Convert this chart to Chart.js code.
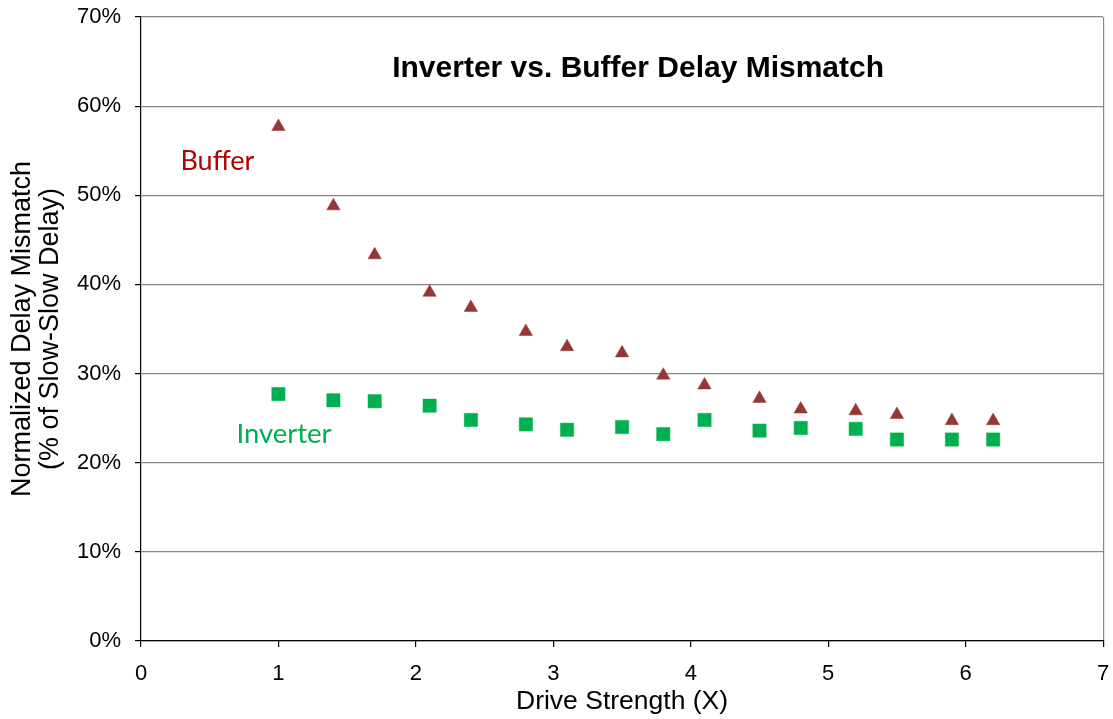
<!DOCTYPE html>
<html>
<head>
<meta charset="utf-8">
<title>Inverter vs. Buffer Delay Mismatch</title>
<script src="https://cdn.jsdelivr.net/npm/chart.js@4.4.0/dist/chart.umd.min.js"></script>
<style>
  html, body { margin: 0; padding: 0; background: #fff; }
  #wrap { width: 1113px; height: 719px; }
</style>
</head>
<body>
<div id="wrap"><canvas id="delayChart" width="1113" height="719"></canvas></div>
<script>
// values (mismatch in % of slow-slow delay)
const driveStrength = [1, 1.4, 1.7, 2.1, 2.4, 2.8, 3.1, 3.5, 3.8, 4.1, 4.5, 4.8, 5.2, 5.5, 5.9, 6.2];
const bufferMismatch = [57.7, 48.8, 43.3, 39.1, 37.4, 34.7, 33.0, 32.3, 29.8, 28.7, 27.2, 26.0, 25.8, 25.4, 24.7, 24.7];
const inverterMismatch = [27.7, 27.0, 26.9, 26.4, 24.8, 24.3, 23.7, 24.0, 23.2, 24.8, 23.6, 23.9, 23.8, 22.6, 22.6, 22.6];
const xTicks = [0, 1, 2, 3, 4, 5, 6, 7];
const yTicks = [0, 10, 20, 30, 40, 50, 60, 70];

const chartTitle = 'Inverter vs. Buffer Delay Mismatch';
const xTitle = 'Drive Strength (X)';
const yTitle = ['Normalized Delay Mismatch', '(% of Slow-Slow Delay)'];

const toPoints = (xs, ys) => xs.map((x, i) => ({ x: x, y: ys[i] }));

// title and series labels sit inside the plot, placed in data coordinates
const inPlotText = {
  id: 'inPlotText',
  afterDraw(chart) {
    const { ctx, scales: { x, y } } = chart;
    const labels = [
      { text: chartTitle, at: [3.617, 63.3], font: 'bold 30px "Liberation Sans", Arial, sans-serif', color: '#000', align: 'center' },
      { text: 'Buffer', at: [0.287, 52.85], font: '27px Lato, "Noto Sans", sans-serif', color: '#B00000', align: 'left' },
      { text: 'Inverter', at: [0.694, 22.2], font: '27.5px Lato, "Noto Sans", sans-serif', color: '#00B050', align: 'left' }
    ];
    ctx.save();
    ctx.textBaseline = 'alphabetic';
    labels.forEach((l) => {
      ctx.font = l.font;
      ctx.fillStyle = l.color;
      ctx.textAlign = l.align;
      ctx.fillText(l.text, x.getPixelForValue(l.at[0]), y.getPixelForValue(l.at[1]));
    });
    ctx.restore();
  }
};

const tickFont = { family: '"Liberation Sans", Arial, sans-serif', size: 22 };
const xTitleFont = { family: '"Liberation Sans", Arial, sans-serif', size: 26.5, lineHeight: 1.1 };
const yTitleFont = { family: '"Liberation Sans", Arial, sans-serif', size: 27, lineHeight: 1.05 };

new Chart(document.getElementById('delayChart').getContext('2d'), {
  type: 'scatter',
  data: {
    datasets: [
      {
        label: 'Buffer',
        data: toPoints(driveStrength, bufferMismatch),
        pointStyle: 'triangle',
        pointRadius: 7.7,
        backgroundColor: '#953735',
        borderColor: '#953735',
        borderWidth: 0.5
      },
      {
        label: 'Inverter',
        data: toPoints(driveStrength, inverterMismatch),
        pointStyle: 'rect',
        pointRadius: 9.4,
        backgroundColor: '#00B050',
        borderColor: '#00B050',
        borderWidth: 0.5
      }
    ]
  },
  options: {
    responsive: false,
    animation: false,
    devicePixelRatio: 1,
    layout: { padding: { top: 17, right: 8, bottom: 0, left: 0 } },
    plugins: {
      legend: { display: false },
      tooltip: { enabled: false }
    },
    scales: {
      x: {
        type: 'linear',
        min: 0,
        max: 7,
        afterBuildTicks: (axis) => { axis.ticks = xTicks.map((v) => ({ value: v })); },
        afterFit: (axis) => {
          axis.height = 78;
          axis.paddingLeft = 0;
          axis.paddingRight = 0;
        },
        ticks: { color: '#000', font: tickFont, padding: 14, maxRotation: 0 },
        grid: {
          drawOnChartArea: true,
          color: (c) => (c.tick && c.tick.value === 7 ? '#868686' : 'rgba(0,0,0,0)'),
          tickColor: '#000',
          tickLength: 6,
          lineWidth: 1.2
        },
        border: { color: '#000', width: 1.2 },
        title: { display: true, text: xTitle, color: '#000', font: xTitleFont, padding: { top: 0, bottom: 3 } }
      },
      y: {
        type: 'linear',
        min: 0,
        max: 70,
        afterBuildTicks: (axis) => { axis.ticks = yTicks.map((v) => ({ value: v })); },
        afterFit: (axis) => {
          axis.width = 141;
          axis.paddingTop = 0;
          axis.paddingBottom = 0;
        },
        ticks: { color: '#000', font: tickFont, padding: 14, callback: (v) => v + '%' },
        grid: { color: '#868686', tickColor: '#000', tickLength: 6, lineWidth: 1.2 },
        border: { color: '#000', width: 1.2 },
        title: { display: true, text: yTitle, color: '#000', font: yTitleFont, padding: { top: 8, bottom: 0 } }
      }
    }
  },
  plugins: [inPlotText]
});
</script>
</body>
</html>
